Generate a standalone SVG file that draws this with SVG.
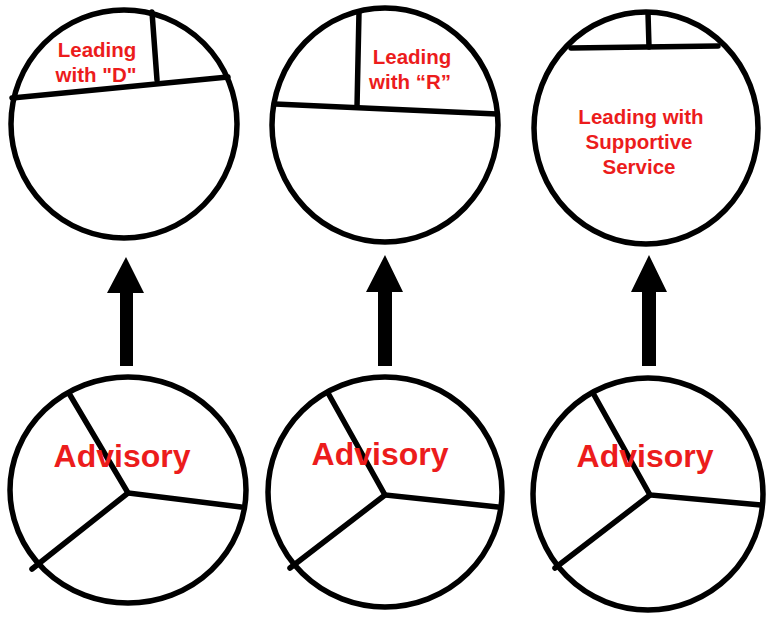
<svg xmlns="http://www.w3.org/2000/svg" width="766" height="617" viewBox="0 0 766 617">
<style>
.c{fill:none;stroke:#000;stroke-width:5.5}
.l{fill:none;stroke:#000;stroke-width:5.5;stroke-linecap:round}
.t{fill:#ec1c1c;font-family:"Liberation Sans",Arial,sans-serif;font-weight:bold;text-anchor:middle}
.s{font-size:20.5px}
.b{font-size:32px}
.a{fill:#000}
</style>
<rect width="766" height="617" fill="#fff"/>
<g id="top1">
<ellipse class="c" cx="124" cy="124" rx="113" ry="114"/>
<line class="l" x1="12" y1="98" x2="228" y2="77"/>
<line class="l" x1="152" y1="12" x2="157" y2="80"/>
<text class="t s" x="97" y="57">Leading</text>
<text class="t s" x="96" y="82">with "D"</text>
</g>
<g id="top2">
<ellipse class="c" cx="385" cy="125" rx="113" ry="117"/>
<line class="l" x1="275" y1="104" x2="497" y2="114"/>
<line class="l" x1="359" y1="12" x2="357" y2="107"/>
<text class="t s" x="412" y="64">Leading</text>
<text class="t s" x="410" y="89">with “R”</text>
</g>
<g id="top3">
<ellipse class="c" cx="646" cy="128" rx="112" ry="116"/>
<line class="l" x1="571" y1="48" x2="718" y2="46"/>
<line class="l" x1="648" y1="13" x2="649" y2="47"/>
<text class="t s" x="641" y="124">Leading with</text>
<text class="t s" x="639" y="149">Supportive</text>
<text class="t s" x="639" y="174">Service</text>
</g>
<g id="bottom1">
<ellipse class="c" cx="128" cy="490" rx="118" ry="113"/>
<polyline class="l" points="70,395 128,493 241,507"/>
<line class="l" x1="128" y1="493" x2="32" y2="569"/>
<text class="t b" x="122" y="467">Advisory</text>
</g>
<g id="bottom2">
<ellipse class="c" cx="385" cy="492" rx="117" ry="115"/>
<polyline class="l" points="328,393 385,495 498,507"/>
<line class="l" x1="385" y1="495" x2="290" y2="568"/>
<text class="t b" x="380" y="465">Advisory</text>
</g>
<g id="bottom3">
<ellipse class="c" cx="648" cy="494" rx="115" ry="116"/>
<polyline class="l" points="593,393 650,495 761,505"/>
<line class="l" x1="650" y1="495" x2="555" y2="568"/>
<text class="t b" x="645" y="467">Advisory</text>
</g>
<g id="connectors">
<polygon class="a" points="126,257 144,293 133,293 133,366 120,366 120,293 107,293"/>
<polygon class="a" points="385,255 403,292 392,292 392,366 378,366 378,292 366,292"/>
<polygon class="a" points="649,255 667,292 656,292 656,366 642,366 642,292 631,292"/>
</g>
</svg>
